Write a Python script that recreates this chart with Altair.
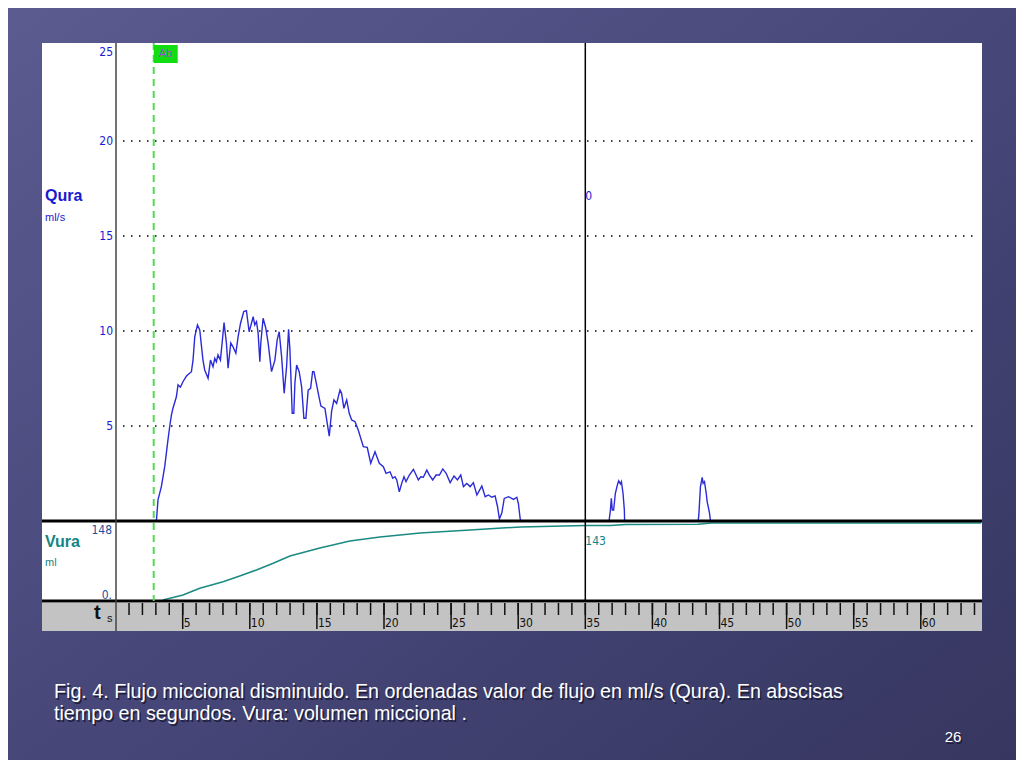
import altair as alt
import pandas as pd

# ---------------- data ----------------
# Flow trace (Qura, ml/s) versus time (s)
flow_t = [3.04, 3.16, 3.41, 3.66, 3.90, 4.03, 4.16, 4.28, 4.53, 4.65, 4.83, 5.02, 5.28, 5.65, 5.77, 5.90,
          6.10, 6.27, 6.51, 6.64, 6.89, 7.07, 7.26, 7.39, 7.51, 7.63, 7.81, 7.96, 8.08, 8.26, 8.38, 8.58,
          8.75, 8.96, 9.13, 9.31, 9.55, 9.75, 9.95, 10.13, 10.25, 10.37, 10.50, 10.62, 10.75, 10.82, 10.99,
          11.19, 11.37, 11.62, 11.87, 12.04, 12.19, 12.37, 12.56, 12.74, 12.89, 12.99, 13.16, 13.28, 13.36,
          13.49, 13.68, 13.86, 14.03, 14.18, 14.35, 14.53, 14.68, 14.78, 14.98, 15.15, 15.30, 15.60, 15.77,
          15.92, 16.10, 16.27, 16.47, 16.72, 16.84, 17.01, 17.22, 17.41, 17.59, 17.84, 18.08, 18.46, 18.75,
          19.01, 19.33, 19.65, 19.95, 20.15, 20.45, 20.65, 20.82, 20.95, 21.14, 21.32, 21.49, 21.64, 21.89,
          22.19, 22.39, 22.56, 22.74, 22.93, 23.19, 23.38, 23.63, 23.88, 24.13, 24.38, 24.63, 24.93, 25.22,
          25.47, 25.72, 25.92, 26.17, 26.42, 26.66, 26.92, 27.29, 27.54, 27.78, 28.04, 28.28, 28.46, 28.60,
          28.78, 28.96, 29.28, 29.65, 29.90, 30.02, 30.15, 30.22,
          36.77, 36.87, 36.94, 37.01, 37.11, 37.24, 37.41, 37.49, 37.61, 37.69, 37.81, 37.91, 37.93,
          43.41, 43.46, 43.58, 43.71, 43.78, 43.88, 44.01, 44.08, 44.25, 44.33, 64.5]
flow_q = [0, 1.11, 1.81, 2.86, 4.26, 4.96, 5.58, 5.95, 6.54, 7.16, 7.05, 7.33, 7.63, 7.86, 8.47, 9.70,
          10.32, 10.05, 8.47, 7.95, 7.51, 8.47, 8.12, 8.56, 8.38, 8.74, 8.47, 9.53, 10.44, 9.35, 8.04, 9.37,
          9.17, 8.83, 9.70, 10.41, 11.02, 11.07, 9.96, 10.42, 10.75, 10.32, 10.49, 9.89, 8.38, 9.37, 10.67,
          10.16, 9.35, 7.86, 8.47, 9.53, 9.96, 8.65, 6.72, 8.12, 10.09, 9.0, 5.67, 5.67, 7.25,
          8.21, 7.86, 7.07, 5.41, 5.41, 6.89, 6.98, 7.86, 7.86, 7.16, 6.54, 6.05, 5.93, 5.14,
          4.47, 5.8, 6.37, 6.19, 6.89, 6.72, 5.93, 6.37, 5.67, 5.32, 5.23, 4.79, 3.91, 3.88,
          3.04, 3.65, 3.04, 2.86, 2.51, 2.59, 2.25, 2.33, 2.16, 1.54, 1.98, 2.33, 2.07, 2.42,
          2.72, 2.42, 2.16, 2.33, 2.30, 2.68, 2.42, 2.16, 2.42, 2.42, 2.74, 2.51, 2.02, 2.37,
          2.16, 2.42, 1.81, 1.98, 1.81, 2.02, 1.37, 1.84, 1.28, 1.37, 1.25, 1.32, 0.75, 0.11,
          0.42, 1.19, 1.28, 1.14, 1.25, 0.89, 0.1, 0,
          0, 0.58, 1.19, 0.58, 0.58, 1.46, 1.95, 2.12, 1.95, 2.07, 1.46, 0.58, 0,
          0, 0.32, 1.81, 2.30, 1.98, 2.07, 1.46, 1.02, 0.44, 0, 0]

# Voided volume trace (Vura, ml) versus time (s)
vol_t = [3.53, 5.02, 6.27, 8.01, 9.25, 10.50, 11.74, 12.99, 15.22, 17.46, 19.70, 22.69, 26.42, 30.15,
         35.0, 36.87, 38.0, 43.4, 44.4, 64.5]
vol_v = [0, 9.6, 22.5, 35.2, 46.2, 57.7, 70.6, 84.6, 100, 113.5, 121, 129, 134.6, 140.4,
         143, 143, 145.2, 145.6, 148, 148]

qura_grid = [5, 10, 15, 20]
qura_tick_labels = ["5", "10", "15", "20"]
qura_top = 25
vura_max = 148
vura_min_label = "0."
sec_ticks = list(range(1, 65))
sec_labels = [5, 10, 15, 20, 25, 30, 35, 40, 45, 50, 55, 60]
marker_t = 2.84          # "Ab" marker
cursor_t = 35            # cursor
cursor_qura = "0"
cursor_vura = "143"
caption_lines = ["Fig. 4. Flujo miccional disminuido. En ordenadas valor de flujo en ml/s (Qura). En abscisas",
                 "tiempo en segundos. Vura: volumen miccional ."]
page_number = "26"

assert len(flow_t) == len(flow_q), (len(flow_t), len(flow_q))
assert len(vol_t) == len(vol_v)

# ---------------- layout ----------------
W, H = 940, 588
XS = alt.Scale(domain=[0, 64.56], range=[73.6, 940])
QS = alt.Scale(domain=[0, 25], range=[478, 3])
VS = alt.Scale(domain=[0, 148], range=[557, 480])
NARROW = "Liberation Sans Narrow, DejaVu Sans Condensed, Arial Narrow, sans-serif"
SANS = "Liberation Sans, Arial, sans-serif"
BLUE = "#1a1ad0"
TEAL = "#138585"

one = pd.DataFrame({"a": [0]})
flow_df = pd.DataFrame({"t": flow_t, "q": flow_q})
vol_df = pd.DataFrame({"t": vol_t, "v": vol_v})
grid_df = pd.DataFrame({"v": qura_grid, "lab": qura_tick_labels})
sec_df = pd.DataFrame({"t": sec_ticks})
lab_df = pd.DataFrame({"t": sec_labels, "lab": [str(s) for s in sec_labels]})

layers = []

# slide background
bg = alt.Chart(one).mark_rect(
    color=alt.LinearGradient(gradient="linear", x1=0, y1=0, x2=1, y2=1,
                             stops=[alt.GradientStop(color="#5b5b90", offset=0),
                                    alt.GradientStop(color="#47477a", offset=0.5),
                                    alt.GradientStop(color="#363660", offset=1)])
).encode(x=alt.value(-34), x2=alt.value(974), y=alt.value(-35), y2=alt.value(717))
layers.append(bg)

# white chart frame
layers.append(alt.Chart(one).mark_rect(color="white").encode(
    x=alt.value(0), x2=alt.value(W), y=alt.value(0), y2=alt.value(H)))
# grey time strip
layers.append(alt.Chart(one).mark_rect(color="#c3c3c3").encode(
    x=alt.value(0), x2=alt.value(W), y=alt.value(560), y2=alt.value(H)))

# dotted grid lines of the flow panel
layers.append(alt.Chart(grid_df).mark_rule(color="black", strokeWidth=1.3, strokeDash=[1.5, 6.5]).encode(
    y=alt.Y("v:Q", scale=QS, axis=None), x=alt.value(81), x2=alt.value(934)))

# flow & volume traces
layers.append(alt.Chart(flow_df).mark_line(color="#2b2bd8", strokeWidth=1.4).encode(
    x=alt.X("t:Q", scale=XS, axis=None), y=alt.Y("q:Q", scale=QS, axis=None)))
layers.append(alt.Chart(vol_df).mark_line(color="#1a8a82", strokeWidth=1.5).encode(
    x=alt.X("t:Q", scale=XS, axis=None), y=alt.Y("v:Q", scale=VS, axis=None)))

# panel separators
layers.append(alt.Chart(one).mark_rule(color="black", strokeWidth=3).encode(
    x=alt.value(0), x2=alt.value(W), y=alt.value(478)))
layers.append(alt.Chart(one).mark_rule(color="black", strokeWidth=3).encode(
    x=alt.value(0), x2=alt.value(W), y=alt.value(558)))
layers.append(alt.Chart(one).mark_rule(color="#444444", strokeWidth=1.5).encode(
    x=alt.value(74), y=alt.value(0), y2=alt.value(H)))

# time ticks
layers.append(alt.Chart(sec_df).mark_rule(color="#111111", strokeWidth=1.5).encode(
    x=alt.X("t:Q", scale=XS, axis=None), y=alt.value(560), y2=alt.value(572)))
layers.append(alt.Chart(lab_df).mark_rule(color="#111111", strokeWidth=1.5).encode(
    x=alt.X("t:Q", scale=XS, axis=None), y=alt.value(560), y2=alt.value(586)))
layers.append(alt.Chart(lab_df).mark_text(align="left", baseline="middle", dx=1, fontSize=12,
                                          font=NARROW, color="#111111").encode(
    x=alt.X("t:Q", scale=XS, axis=None), y=alt.value(580), text="lab:N"))

# cursor and marker
cur_df = pd.DataFrame({"t": [cursor_t], "q": [cursor_qura], "v": [cursor_vura]})
layers.append(alt.Chart(cur_df).mark_rule(color="black", strokeWidth=1.5).encode(
    x=alt.X("t:Q", scale=XS, axis=None), y=alt.value(0), y2=alt.value(558)))
layers.append(alt.Chart(cur_df).mark_text(align="left", baseline="middle", dx=0, fontSize=12,
                                          font=NARROW, color=BLUE).encode(
    x=alt.X("t:Q", scale=XS, axis=None), y=alt.value(153), text="q:N"))
layers.append(alt.Chart(cur_df).mark_text(align="left", baseline="middle", dx=0, fontSize=12,
                                          font=NARROW, color=TEAL).encode(
    x=alt.X("t:Q", scale=XS, axis=None), y=alt.value(498), text="v:N"))

mk_df = pd.DataFrame({"t": [marker_t], "lab": ["Ab"]})
layers.append(alt.Chart(mk_df).mark_rule(color="#55d855", strokeWidth=2, strokeDash=[7, 5]).encode(
    x=alt.X("t:Q", scale=XS, axis=None), y=alt.value(0), y2=alt.value(558)))
layers.append(alt.Chart(mk_df).mark_rect(color="#11dd11", x2Offset=24).encode(
    x=alt.X("t:Q", scale=XS, axis=None), x2="t:Q", y=alt.value(2), y2=alt.value(20)))
layers.append(alt.Chart(mk_df).mark_text(align="center", baseline="middle", dx=12, fontSize=11,
                                         font=SANS, color="#a04ad0").encode(
    x=alt.X("t:Q", scale=XS, axis=None), y=alt.value(11), text="lab:N"))

# flow axis labels
layers.append(alt.Chart(grid_df).mark_text(align="right", baseline="middle", fontSize=12,
                                           font=NARROW, color=BLUE).encode(
    y=alt.Y("v:Q", scale=QS, axis=None), x=alt.value(71), text="lab:N"))
layers.append(alt.Chart(pd.DataFrame({"v": [qura_top], "lab": [str(qura_top)]})).mark_text(
    align="right", baseline="middle", dy=6, fontSize=12, font=NARROW, color=BLUE).encode(
    y=alt.Y("v:Q", scale=QS, axis=None), x=alt.value(71), text="lab:N"))

# volume axis labels
vl_df = pd.DataFrame({"v": [vura_max, 0], "lab": [str(vura_max), vura_min_label]})
layers.append(alt.Chart(vl_df.iloc[[0]]).mark_text(align="right", baseline="middle", dy=7, fontSize=12,
                                                   font=NARROW, color="#2050a0").encode(
    y=alt.Y("v:Q", scale=VS, axis=None), x=alt.value(70), text="lab:N"))
layers.append(alt.Chart(vl_df.iloc[[1]]).mark_text(align="right", baseline="middle", dy=-5, fontSize=12,
                                                   font=NARROW, color="#2050a0").encode(
    y=alt.Y("v:Q", scale=VS, axis=None), x=alt.value(70), text="lab:N"))

# channel names
def label(txt, x, y, size, color, weight="normal", font=SANS, dxy=0, align="left"):
    return alt.Chart(one).mark_text(text=txt, align=align, baseline="middle", fontSize=size,
                                    fontWeight=weight, font=font, color=color, dx=dxy, dy=dxy).encode(
        x=alt.value(x), y=alt.value(y))

layers.append(label("Qura", 3, 153, 16, BLUE, "bold"))
layers.append(label("ml/s", 3, 175, 11, BLUE))
layers.append(label("Vura", 3, 499, 16, TEAL, "bold"))
layers.append(label("ml", 3, 520, 11, TEAL))
layers.append(label("t", 52, 570, 20, "#111111", "bold"))
layers.append(label("s", 65, 576, 11, "#111111"))

# caption with a soft shadow
for dxy, col in [(1.5, "#1e1e3a"), (0, "white")]:
    layers.append(label(caption_lines[0], 12, 649, 19.7, col, dxy=dxy))
    layers.append(label(caption_lines[1], 12, 671, 19.7, col, dxy=dxy))
    layers.append(label(page_number, 911, 694, 15, col, dxy=dxy, align="center"))

chart = alt.layer(*layers).resolve_scale(y="independent").properties(
    width=W, height=H,
    autosize=alt.AutoSizeParams(type="none"),
    padding={"left": 34, "top": 35, "right": 34, "bottom": 129},
    background="#47477a",
).configure_view(stroke="#222222", strokeWidth=2)

chart.save("out.html", embed_options={"renderer": "svg", "actions": False})
